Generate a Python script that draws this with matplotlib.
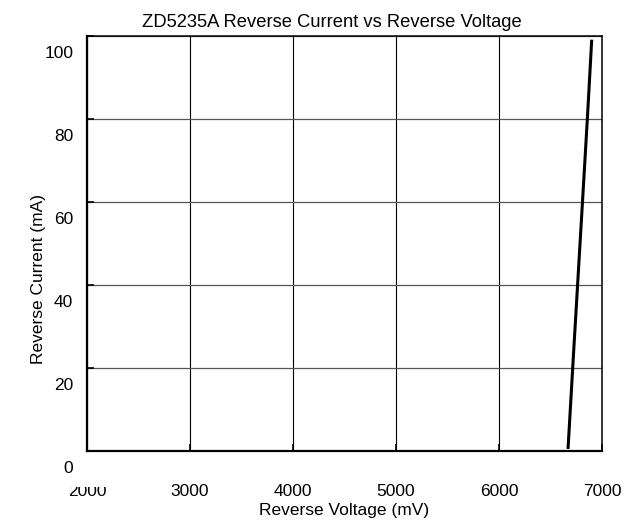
import matplotlib
matplotlib.use('Agg')
import matplotlib.pyplot as plt
import matplotlib.transforms as mtransforms

plt.rcParams['font.family'] = ['Liberation Sans', 'DejaVu Sans']

# reverse voltage (mV) and reverse current (mA)
voltage_mv = [6670, 6720, 6770, 6820, 6860, 6900]
current_ma = [0.5, 22, 43, 64, 81, 99]

x_ticks = [2000, 3000, 4000, 5000, 6000, 7000]
y_ticks = [0, 20, 40, 60, 80, 100]

title = 'ZD5235A Reverse Current vs Reverse Voltage'
x_label = 'Reverse Voltage (mV)'
y_label = 'Reverse Current (mA)'


def main():
    fig = plt.figure(figsize=(6.38, 5.27), dpi=100)
    ax = fig.add_axes([0.1364, 0.1442, 0.8072, 0.7884])

    ax.plot(voltage_mv, current_ma, color='black', linewidth=2.2,
            solid_capstyle='butt', zorder=3)

    ax.set_xlim(2000, 7000)
    ax.set_ylim(0, 100)
    ax.set_xticks(x_ticks)
    ax.set_yticks(y_ticks)

    # grid: vertical lines black, horizontal lines grey
    ax.xaxis.grid(True, color='black', linewidth=0.8)
    ax.yaxis.grid(True, color='#555555', linewidth=0.9)
    ax.set_axisbelow(True)

    ax.tick_params(axis='both', direction='in', length=5, width=1.2,
                   color='black', labelsize=12.5)
    ax.tick_params(axis='x', pad=24)
    ax.tick_params(axis='y', pad=10)

    # labels in the source sit below their grid lines
    down = mtransforms.ScaledTranslation(0, -16 / 100, fig.dpi_scale_trans)
    for lab in ax.get_yticklabels():
        lab.set_transform(lab.get_transform() + down)

    # the first x label is cut off at the top in the source
    clip = mtransforms.TransformedBbox(
        mtransforms.Bbox([[0, 0], [0.3, 40 / 527]]), fig.transFigure)
    first = ax.get_xticklabels()[0]
    first.set_clip_box(clip)
    first.set_clip_on(True)

    for side in ('left', 'bottom'):
        ax.spines[side].set_linewidth(1.6)
        ax.spines[side].set_color('black')
    for side in ('top', 'right'):
        ax.spines[side].set_linewidth(1.1)
        ax.spines[side].set_color('black')

    ax.set_title(title, fontsize=13.2, pad=6, x=0.476)
    ax.set_xlabel(x_label, fontsize=12.5)
    ax.xaxis.set_label_coords(0.5, -0.124)
    ax.set_ylabel(y_label, fontsize=12.5)
    ax.yaxis.set_label_coords(-0.08, 0.415)

    fig.savefig('out.png', dpi=100)


if __name__ == '__main__':
    main()
